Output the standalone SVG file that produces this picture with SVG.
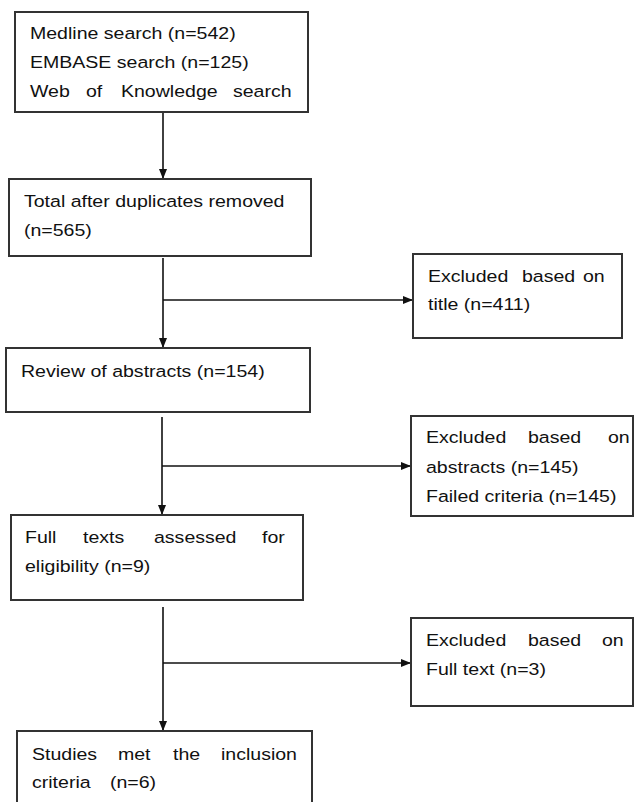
<svg xmlns="http://www.w3.org/2000/svg" width="635" height="802" viewBox="0 0 635 802">
<style>
.box{fill:#fff;stroke:#333;stroke-width:2}
.ln{fill:none;stroke:#111;stroke-width:1.6}
.t{font-family:"Liberation Sans",Arial,sans-serif;font-size:17px;fill:#111}
</style>
<defs>
<marker id="ah" markerWidth="10" markerHeight="10" refX="9" refY="5" orient="auto" markerUnits="userSpaceOnUse">
<path d="M0,1 L10,5 L0,9 Z" fill="#111"/>
</marker>
</defs>
<rect width="635" height="802" fill="#fff"/>
<g id="connectors">
<line class="ln" x1="163" y1="112" x2="163" y2="178" marker-end="url(#ah)"/>
<line class="ln" x1="163" y1="258" x2="163" y2="347" marker-end="url(#ah)"/>
<line class="ln" x1="163" y1="300" x2="412" y2="300" marker-end="url(#ah)"/>
<line class="ln" x1="162" y1="417" x2="162" y2="514" marker-end="url(#ah)"/>
<line class="ln" x1="162" y1="466" x2="410" y2="466" marker-end="url(#ah)"/>
<line class="ln" x1="163" y1="607" x2="163" y2="730" marker-end="url(#ah)"/>
<line class="ln" x1="163" y1="663" x2="410" y2="663" marker-end="url(#ah)"/>
</g>
<g id="search"><rect class="box" x="15" y="12" width="293" height="100"/></g>
<g id="dedup"><rect class="box" x="9" y="179" width="302" height="77"/></g>
<g id="excl-title"><rect class="box" x="413" y="254" width="209" height="84"/></g>
<g id="abstracts"><rect class="box" x="6" y="348" width="304" height="64"/></g>
<g id="excl-abstracts"><rect class="box" x="411" y="416" width="222" height="100"/></g>
<g id="fulltexts"><rect class="box" x="11" y="515" width="292" height="85"/></g>
<g id="excl-fulltext"><rect class="box" x="411" y="618" width="222" height="88"/></g>
<g id="included"><rect class="box" x="17" y="731" width="295" height="80"/></g>
<g transform="scale(1.15 1)">
<text class="t" x="26.09" y="39">Medline search (n=542)</text>
<text class="t" x="26.09" y="68">EMBASE search (n=125)</text>
<text class="t" y="97"><tspan x="26.09">Web</tspan> <tspan x="74.78">of</tspan> <tspan x="105.22">Knowledge</tspan> <tspan x="202.61">search</tspan></text>
<text class="t" x="20.87" y="207">Total after duplicates removed</text>
<text class="t" x="20.87" y="236">(n=565)</text>
<text class="t" y="282"><tspan x="372.17">Excluded</tspan> <tspan x="453.91">based</tspan> <tspan x="506.96">on</tspan></text>
<text class="t" x="372.17" y="310">title (n=411)</text>
<text class="t" x="18.26" y="377">Review of abstracts (n=154)</text>
<text class="t" y="443"><tspan x="370.43">Excluded</tspan> <tspan x="459.13">based</tspan> <tspan x="528.70">on</tspan></text>
<text class="t" x="370.43" y="473">abstracts (n=145)</text>
<text class="t" x="370.43" y="502">Failed criteria (n=145)</text>
<text class="t" y="543"><tspan x="21.74">Full</tspan> <tspan x="72.17">texts</tspan> <tspan x="133.91">assessed</tspan> <tspan x="227.83">for</tspan></text>
<text class="t" x="21.74" y="572">eligibility (n=9)</text>
<text class="t" y="646"><tspan x="370.43">Excluded</tspan> <tspan x="459.13">based</tspan> <tspan x="523.48">on</tspan></text>
<text class="t" x="370.43" y="675">Full text (n=3)</text>
<text class="t" y="760"><tspan x="27.83">Studies</tspan> <tspan x="102.61">met</tspan> <tspan x="150.43">the</tspan> <tspan x="192.17">inclusion</tspan></text>
<text class="t" y="788"><tspan x="27.83">criteria</tspan> <tspan x="95.65">(n=6)</tspan></text>
</g>
</svg>
